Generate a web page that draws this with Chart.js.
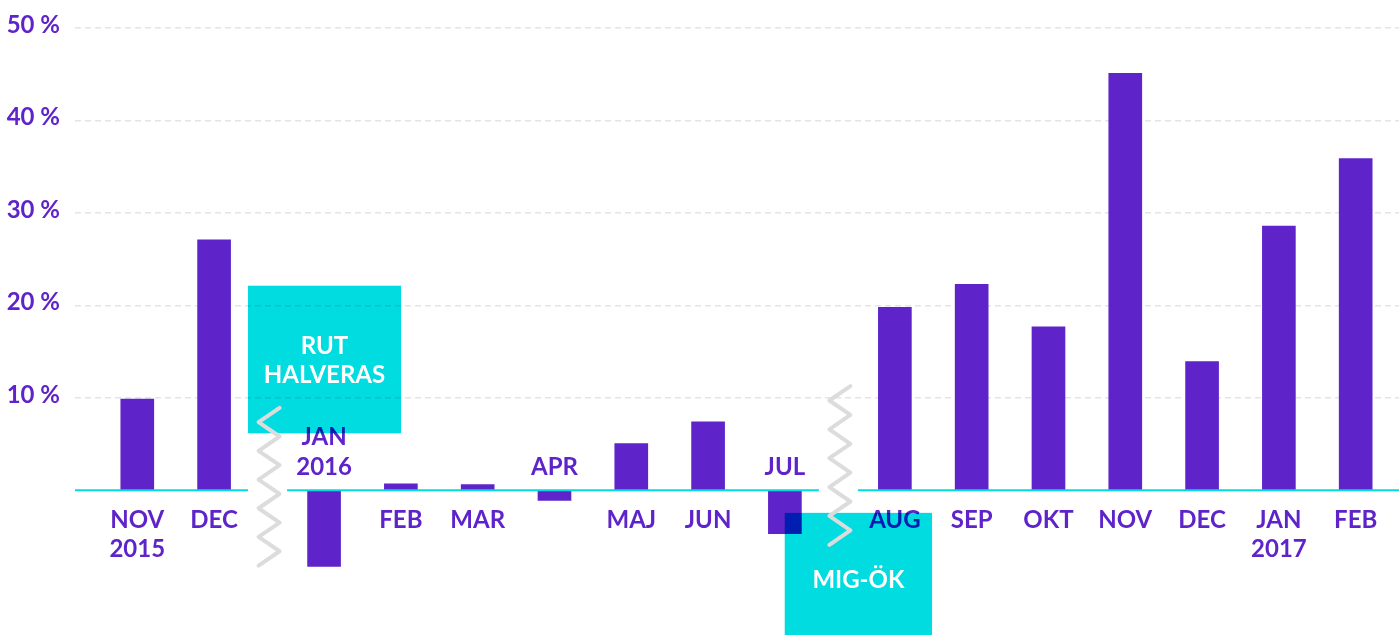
<!DOCTYPE html>
<html>
<head>
<meta charset="utf-8">
<script src="https://cdn.jsdelivr.net/npm/chart.js@4"></script>
<style>
  html, body { margin: 0; padding: 0; background: #fff; }
  #wrap { position: relative; width: 1399px; height: 635px; }
</style>
</head>
<body>
<div id="wrap"><canvas id="chart"></canvas></div>
<script>
// monthly change, %
const months = ["NOV", "DEC", "JAN", "FEB", "MAR", "APR", "MAJ", "JUN", "JUL", "AUG", "SEP", "OKT", "NOV", "DEC", "JAN", "FEB"];
const years = ["2015", "", "2016", "", "", "", "", "", "", "", "", "", "", "", "2017", ""];
const change = [9.9, 27.1, -8.2, 0.75, 0.65, -1.05, 5.1, 7.45, -4.65, 19.8, 22.3, 17.7, 45.1, 13.95, 28.6, 35.9];
const segment = [0, 0, 1, 1, 1, 1, 1, 1, 1, 2, 2, 2, 2, 2, 2, 2];
const yTicks = [10, 20, 30, 40, 50];

// axis breaks (after which bar index) and the notes in cyan boxes
const breaks = [
  { after: 1, top: 8.95, bottom: -8.1 },
  { after: 8, top: 11.3, bottom: -5.85 }
];
const notes = [
  { lines: ["RUT", "HALVERAS"], x0: 1.441, x1: 3.434, top: 22.15, bottom: 6.2 },
  { lines: ["MIG-ÖK"], x0: 8.43, x1: 10.348, top: -2.4, bottom: -16.8 }
];

const breakGap = 0.432;
const xPos = change.map((v, i) => i + segment[i] * breakGap);

const PURPLE = "#5e24ca";
const CYAN = "#00dce0";
const FONT = "Lato, 'Open Sans', sans-serif";

const overlay = {
  id: "overlay",
  afterDatasetsDraw(chart) {
    const { ctx, scales: { x, y } } = chart;
    const zero = y.getPixelForValue(0);
    const brk = breaks.map(b => (x.getPixelForValue(xPos[b.after]) + x.getPixelForValue(xPos[b.after + 1])) / 2);

    // zero line, with gaps at the breaks
    const cuts = [chart.chartArea.left];
    brk.forEach(c => cuts.push(c - 21, c + 18));
    cuts.push(chart.chartArea.right);
    ctx.save();
    ctx.strokeStyle = CYAN;
    ctx.lineWidth = 2;
    for (let k = 0; k < cuts.length; k += 2) {
      ctx.beginPath();
      ctx.moveTo(cuts[k], zero - 0.5);
      ctx.lineTo(cuts[k + 1], zero - 0.5);
      ctx.stroke();
    }

    // month labels next to the zero line
    ctx.fillStyle = PURPLE;
    ctx.font = "bold 24px " + FONT;
    ctx.textAlign = "center";
    ctx.textBaseline = "alphabetic";
    months.forEach((m, i) => {
      const px = x.getPixelForValue(xPos[i]);
      const lines = years[i] ? [m, years[i]] : [m];
      if (change[i] >= 0) {
        lines.forEach((t, k) => ctx.fillText(t, px, zero + 37 + k * 29));
      } else {
        lines.forEach((t, k) => ctx.fillText(t, px, zero - 16 - (lines.length - 1 - k) * 30));
      }
    });

    // note boxes
    notes.forEach(n => {
      const l = x.getPixelForValue(n.x0), r = x.getPixelForValue(n.x1);
      const t = y.getPixelForValue(n.top), b = y.getPixelForValue(n.bottom);
      ctx.globalCompositeOperation = "multiply";
      ctx.fillStyle = CYAN;
      ctx.fillRect(l, t, r - l, b - t);
      ctx.globalCompositeOperation = "source-over";
      ctx.fillStyle = "#ffffff";
      const cy = (t + b) / 2;
      n.lines.forEach((s, k) => {
        ctx.fillText(s, (l + r) / 2, cy - (n.lines.length - 1) * 14.6 + k * 29.3 + 8.7);
      });
    });

    // zigzag break marks
    ctx.strokeStyle = "#dcdcdc";
    ctx.lineWidth = 4;
    ctx.lineCap = "round";
    ctx.lineJoin = "round";
    breaks.forEach((bk, j) => {
      const t = y.getPixelForValue(bk.top), b = y.getPixelForValue(bk.bottom);
      const steps = 11;
      ctx.beginPath();
      for (let k = 0; k <= steps; k++) {
        const px = brk[j] + (k % 2 === 0 ? 10.5 : -10.5);
        const py = t + (b - t) * k / steps;
        if (k === 0) ctx.moveTo(px, py); else ctx.lineTo(px, py);
      }
      ctx.stroke();
    });
    ctx.restore();
  }
};

new Chart(document.getElementById("chart"), {
  type: "bar",
  data: {
    datasets: [{
      data: change.map((v, i) => ({ x: xPos[i], y: v })),
      backgroundColor: PURPLE,
      barThickness: 33,
      borderWidth: 0
    }]
  },
  options: {
    responsive: true,
    maintainAspectRatio: false,
    animation: false,
    layout: { padding: { top: 28, right: 0, bottom: 0, left: 0 } },
    plugins: { legend: { display: false }, tooltip: { enabled: false } },
    scales: {
      x: {
        type: "linear",
        display: false,
        offset: false,
        min: -0.811,
        max: 16.428
      },
      y: {
        min: -15.6,
        max: 50,
        afterBuildTicks: s => { s.ticks = yTicks.map(v => ({ value: v })); },
        afterFit: s => { s.width = 75; s.paddingTop = 0; s.paddingBottom = 0; },
        border: { display: false, dash: [6, 4] },
        grid: { color: "#e4e4e4", lineWidth: 1.5, drawTicks: false },
        ticks: {
          color: PURPLE,
          padding: 15,
          labelOffset: -3,
          font: { family: FONT, size: 24, weight: "bold" },
          callback: v => v + " %"
        }
      }
    }
  },
  plugins: [overlay]
});
</script>
</body>
</html>
